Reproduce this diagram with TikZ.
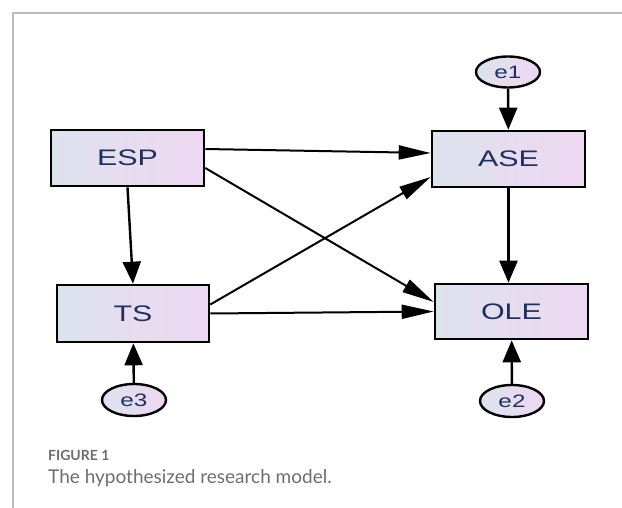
\documentclass[tikz,border=0pt]{standalone}
\usepackage{fontspec}
\newfontfamily\boxfont[FakeStretch=1.35]{Liberation Sans}
\newfontfamily\capfont{Lato}
\usetikzlibrary{arrows.meta,shapes.geometric,calc}
\definecolor{boxleft}{HTML}{DDE3EE}
\definecolor{boxright}{HTML}{EED7F1}
\definecolor{labelcol}{HTML}{1F3060}
\definecolor{framecol}{HTML}{BBBBBB}
\definecolor{captioncol}{HTML}{6E6E6E}

\begin{document}
\begin{tikzpicture}[x=1pt,y=-1pt,
  var/.style={draw,line width=2.6pt,left color=boxleft,right color=boxright,minimum width=153pt,minimum height=56pt,inner sep=0pt,text=labelcol,font=\boxfont\fontsize{22.5}{26}\selectfont},
  err/.style={ellipse,draw,line width=2.4pt,left color=boxleft,right color=boxright,minimum width=64pt,minimum height=31pt,inner sep=0pt,text=labelcol,font=\boxfont\fontsize{18}{21}\selectfont},
  vpath/.style={line width=2.4pt,-{Triangle[length=22pt,width=18pt]}},
  hpath/.style={line width=2pt,-{Triangle[length=32pt,width=14pt]}}]
  \useasboundingbox (0,0) rectangle (622,508);
  \draw[framecol,line width=1.5pt] (13,508) -- (13,13) -- (622,13);
  \draw (127.5,158) node[var] (esp) {ESP};
  \draw (133,313.5) node[var,minimum width=152pt,minimum height=57pt] (ts) {TS};
  \draw (508.5,159) node[var] (ase) {ASE};
  \draw (511.5,311.5) node[var,minimum height=55pt] (ole) {OLE};
  \draw (508,72) node[err] (e1) {e1};
  \draw (512,401) node[err,minimum height=32pt] (e2) {e2};
  \draw (134,400) node[err,minimum height=32pt] (e3) {e3};
  \draw[hpath] ($(esp.east)+(0,-9)$) -- ($(ase.west)+(0,-6)$);
  \draw[hpath] ($(esp.east)+(0,10)$) -- ($(ole.west)+(0,-9.5)$);
  \draw[hpath] ($(ts.east)+(0,-9)$) -- ($(ase.west)+(0,18)$);
  \draw[hpath] (ts.east) -- (ole.west);
  \draw[vpath] (esp.south) -- (ts.north);
  \draw[vpath] (ase.south) -- (ase.south |- ole.north);
  \draw[vpath] (e1) -- (ase);
  \draw[vpath] (e2) -- (ole);
  \draw[vpath] (e3) -- (ts);
  \draw (48,460) node[anchor=base west,inner sep=0pt,text=captioncol,font=\capfont\bfseries\fontsize{14}{16}\selectfont] (fig) {FIGURE 1};
  \draw (48,483) node[anchor=base west,inner sep=0pt,text=captioncol,font=\capfont\fontsize{19}{22}\selectfont] (cap) {The hypothesized research model.};
\end{tikzpicture}
\end{document}
